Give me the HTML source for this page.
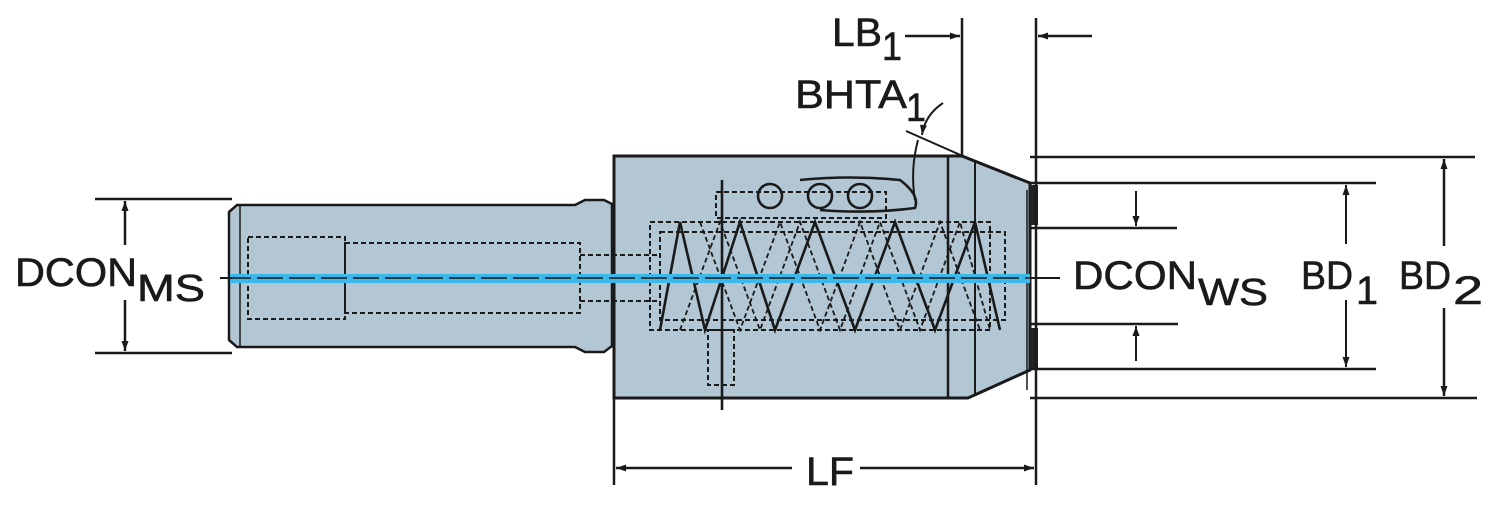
<!DOCTYPE html>
<html><head><meta charset="utf-8"><style>
html,body{margin:0;padding:0;background:#fff}
svg{display:block}
text{font-family:"Liberation Sans",Arial,sans-serif;fill:#1a1a1a;stroke:#1a1a1a;stroke-width:0.6}
</style></head><body>
<svg width="1500" height="505" viewBox="0 0 1500 505" xmlns="http://www.w3.org/2000/svg">
<defs>
<marker id="a" viewBox="0 0 10 10" refX="10" refY="5" markerWidth="16" markerHeight="10" markerUnits="userSpaceOnUse" orient="auto-start-reverse"><path d="M0,1.5 L10,5 L0,8.5 z" fill="#1a1a1a"/></marker>
</defs>
<g stroke="#1a1a1a" fill="none">
<path d="M237,205 L575,205 L585,200 L604,200 L612,204 L612,346 L604,352 L585,352 L575,347 L237,347 L229,340 L229,212 Z" fill="#b2c6d3" stroke-width="2.5"/>
<line x1="240" y1="205" x2="240" y2="347" stroke-width="1.5"/>
<path d="M614,156 L962,156 L1030,183 L1030,370 L968,398 L614,398 Z" fill="#b2c6d3" stroke-width="3"/>
<line x1="948" y1="156" x2="948" y2="398" stroke-width="2.5"/>
<line x1="975" y1="160" x2="975" y2="396" stroke-width="2"/>
<line x1="1027" y1="190" x2="1027" y2="390" stroke-width="1.5"/>
<g stroke-dasharray="5,3" stroke-width="2">
<rect x="248" y="237" width="97" height="82"/>
<rect x="345" y="243" width="235" height="70"/>
<line x1="580" y1="255" x2="660" y2="255"/><line x1="580" y1="301" x2="660" y2="301"/>
<rect x="650" y="222" width="340" height="108"/>
<rect x="660" y="232" width="345" height="88"/>
<rect x="716" y="192" width="170" height="26"/>
<rect x="708" y="330" width="26" height="55"/>
</g>
<g stroke-width="2.6">
<path d="M660,330 L680,222 L705,330 L740,222 L775,330 L815,222 L855,330 L895,222 L935,330 L975,222 L1000,330"/>
<path d="M680,330 L720,222 L760,330 L800,222 L840,330 L880,222 L920,330 L960,222 L990,330" stroke-dasharray="5,3" stroke-width="1.8"/>
<path d="M700,222 L740,330 L780,222 L820,330 L860,222 L900,330 L940,222 L980,330" stroke-dasharray="5,3" stroke-width="1.8"/>
<ellipse cx="770" cy="196" rx="12" ry="12"/><ellipse cx="820" cy="196" rx="12" ry="12"/><ellipse cx="860" cy="196" rx="12" ry="12"/>
<path d="M800,180 Q850,175 900,180 Q920,195 915,208 Q870,214 820,210"/>
<line x1="722" y1="180" x2="722" y2="410"/>
</g>
<rect x="1030" y="185" width="8" height="40" fill="#222" stroke="none"/>
<rect x="1030" y="328" width="8" height="40" fill="#222" stroke="none"/>
</g>
<rect x="230" y="274" width="800" height="9" fill="#3cb8ea"/>
<line x1="225" y1="278" x2="1050" y2="278" stroke="#1a1a1a" stroke-width="1.5" stroke-dasharray="26,6"/>
<line x1="220" y1="278" x2="232" y2="278" stroke="#1a1a1a" stroke-width="2"/>
<line x1="1030" y1="278" x2="1060" y2="278" stroke="#1a1a1a" stroke-width="2"/>
<g stroke="#1a1a1a" stroke-width="2.5" fill="none">
<line x1="95" y1="199" x2="232" y2="199"/><line x1="95" y1="353" x2="232" y2="353"/>
<line x1="125" y1="245" x2="125" y2="201" marker-end="url(#a)"/>
<line x1="125" y1="300" x2="125" y2="351" marker-end="url(#a)"/>
<line x1="1030" y1="157" x2="1475" y2="157"/><line x1="1030" y1="398" x2="1477" y2="398"/>
<line x1="1030" y1="183" x2="1376" y2="183"/><line x1="1030" y1="369" x2="1376" y2="369"/>
<line x1="1030" y1="228" x2="1177" y2="228"/><line x1="1030" y1="324" x2="1178" y2="324"/>
<line x1="1136" y1="191" x2="1136" y2="226" stroke-width="2" marker-end="url(#a)"/>
<line x1="1136" y1="361" x2="1136" y2="326" stroke-width="2" marker-end="url(#a)"/>
<line x1="1346" y1="244" x2="1346" y2="185" stroke-width="2" marker-end="url(#a)"/>
<line x1="1346" y1="300" x2="1346" y2="367" stroke-width="2" marker-end="url(#a)"/>
<line x1="1444" y1="246" x2="1444" y2="159" marker-end="url(#a)"/>
<line x1="1444" y1="308" x2="1444" y2="396" marker-end="url(#a)"/>
<line x1="614" y1="398" x2="614" y2="485"/>
<line x1="1036" y1="18" x2="1036" y2="485"/>
<line x1="962" y1="18" x2="962" y2="155"/>
<line x1="616" y1="468" x2="792" y2="468" marker-start="url(#a)"/>
<line x1="860" y1="468" x2="1034" y2="468" marker-end="url(#a)"/>
<line x1="905" y1="36" x2="960" y2="36" marker-end="url(#a)"/>
<line x1="1092" y1="36" x2="1038" y2="36" marker-end="url(#a)"/>
<line x1="906" y1="131" x2="965" y2="157" stroke-width="2"/>
<path d="M943,103 Q925,115 922,135" stroke-width="2" marker-end="url(#a)"/>
<path d="M918,140 Q910,170 915,200" stroke-width="2"/>
</g>
<text x="15" y="286" font-size="40" textLength="122" lengthAdjust="spacingAndGlyphs">DCON</text>
<text x="137" y="301" font-size="38" textLength="68" lengthAdjust="spacingAndGlyphs">MS</text>
<text x="1073" y="289" font-size="40" textLength="124" lengthAdjust="spacingAndGlyphs">DCON</text>
<text x="1198" y="305" font-size="38" textLength="70" lengthAdjust="spacingAndGlyphs">WS</text>
<text x="1301" y="289" font-size="40" textLength="52" lengthAdjust="spacingAndGlyphs">BD</text>
<text x="1356" y="304" font-size="40" textLength="22" lengthAdjust="spacingAndGlyphs">1</text>
<text x="1399" y="289" font-size="40" textLength="52" lengthAdjust="spacingAndGlyphs">BD</text>
<text x="1453" y="304" font-size="40" textLength="30" lengthAdjust="spacingAndGlyphs">2</text>
<text x="832" y="46" font-size="40" textLength="50" lengthAdjust="spacingAndGlyphs">LB</text>
<text x="882" y="60" font-size="40" textLength="20" lengthAdjust="spacingAndGlyphs">1</text>
<text x="795" y="108" font-size="40" textLength="112" lengthAdjust="spacingAndGlyphs">BHTA</text>
<text x="906" y="121" font-size="40" textLength="20" lengthAdjust="spacingAndGlyphs">1</text>
<text x="806" y="485" font-size="40" textLength="48" lengthAdjust="spacingAndGlyphs">LF</text>
</svg>
</body></html>
